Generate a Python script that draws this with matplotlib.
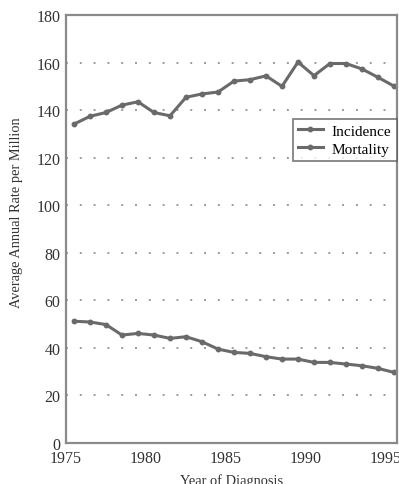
import matplotlib.pyplot as plt

years = list(range(1975, 1996))
incidence = [134.1, 137.4, 139.0, 142.1, 143.5, 139.0, 137.6, 145.4, 146.8, 147.6,
             152.2, 152.8, 154.4, 150.0, 160.2, 154.5, 159.6, 159.6, 157.3, 153.8, 150.1]
mortality = [51.2, 50.9, 49.8, 45.4, 46.1, 45.4, 44.0, 44.7, 42.6, 39.5,
             38.1, 37.7, 36.3, 35.3, 35.3, 33.9, 33.9, 33.2, 32.5, 31.4, 29.7]
x_ticks = [1975, 1980, 1985, 1990, 1995]
y_ticks = list(range(0, 181, 20))

plt.rcParams['font.family'] = ['Liberation Serif', 'DejaVu Serif']

fig = plt.figure(figsize=(3.99, 4.85), dpi=100)
ax = fig.add_axes([0.1654, 0.0845, 0.8296, 0.8825])

# points sit mid-year
xs = [y + 0.5 for y in years]
line_kw = dict(color='#6a6a6a', linewidth=2.2, marker='o', markersize=3.2)
ax.plot(xs, incidence, label='Incidence', **line_kw)
ax.plot(xs, mortality, label='Mortality', **line_kw)

for v in y_ticks[1:-1]:
    ax.axhline(v, color='#9a9a9a', linewidth=1.4, linestyle=(0, (1, 6.1)), zorder=0)

ax.set_xlim(1975, 1995.69)
ax.set_ylim(0, 180)
ax.set_xticks(x_ticks)
ax.set_yticks(y_ticks)
ax.tick_params(length=0, labelsize=11.5, colors='#333333')
ax.tick_params(axis='x', pad=5)
ax.tick_params(axis='y', pad=4)

for side in ['left', 'bottom', 'top', 'right']:
    ax.spines[side].set_color('#8a8a8a')
    ax.spines[side].set_linewidth(1.6)

ax.set_ylabel('Average Annual Rate per Million', fontsize=10.4, color='#333333')
ax.yaxis.set_label_coords(-0.13, 0.54)
ax.set_xlabel('Year of Diagnosis', fontsize=10.4, color='#333333')
ax.xaxis.set_label_coords(0.5, -0.07)

leg = ax.legend(loc='upper left', bbox_to_anchor=(0.662, 0.776), fontsize=11,
                frameon=True, fancybox=False, edgecolor='#555555',
                handlelength=1.6, borderpad=0.35, labelspacing=0.3, handletextpad=0.6)
leg.get_frame().set_linewidth(1.2)

fig.savefig('out.png', dpi=100)
